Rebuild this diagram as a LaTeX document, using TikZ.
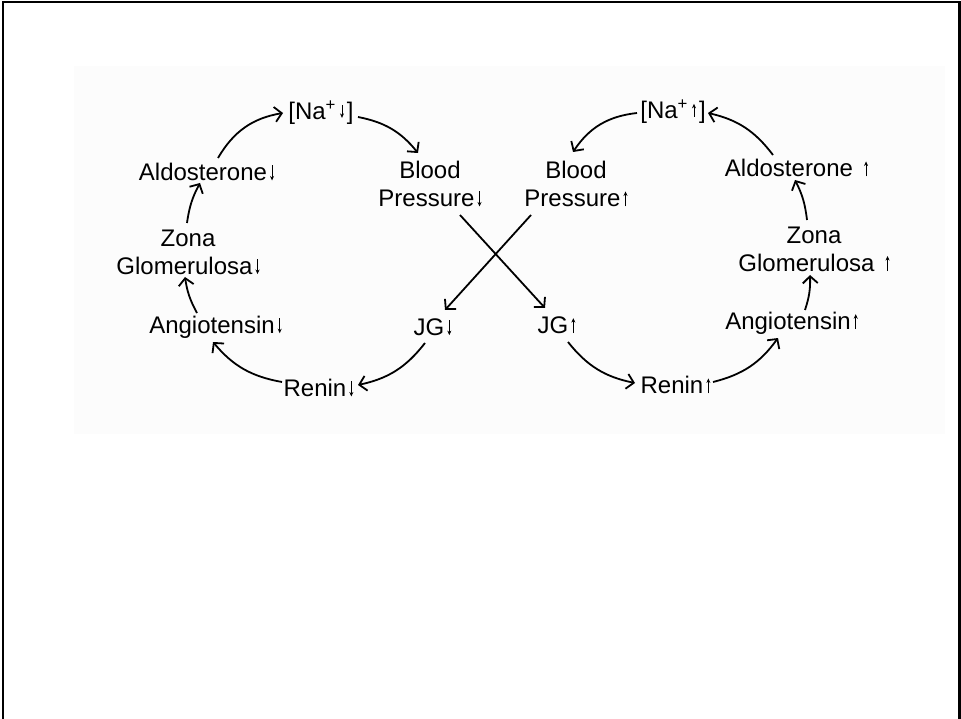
\documentclass[tikz,border=0pt]{standalone}
\usepackage{fontspec}
\setmainfont{Liberation Sans}
\usetikzlibrary{arrows.meta}
\newcommand{\dnar}{\hspace{3pt}\tikz[baseline=0pt]\draw[line width=0.9pt,-{Stealth[length=4.5pt,width=4pt]}] (0,15pt) -- (0,0pt);\hspace{1pt}}
\newcommand{\upar}{\hspace{3pt}\tikz[baseline=0pt]\draw[line width=0.9pt,-{Stealth[length=4.5pt,width=4pt]}] (0,0pt) -- (0,15pt);\hspace{1pt}}
\newcommand{\nadn}{\hspace{4pt}\raisebox{2pt}{\tikz[baseline=0pt]\draw[line width=0.9pt,-{Stealth[length=4.5pt,width=4pt]}] (0,13pt) -- (0,0pt);}\hspace{3pt}}
\newcommand{\naup}{\hspace{4pt}\raisebox{2pt}{\tikz[baseline=0pt]\draw[line width=0.9pt,-{Stealth[length=4.5pt,width=4pt]}] (0,0pt) -- (0,13pt);}\hspace{3pt}}
\definecolor{panel}{RGB}{252,252,252}
\begin{document}
\begin{tikzpicture}[x=1pt,y=1pt,
  lbl/.style={font=\fontsize{24}{28}\selectfont, align=center, inner sep=1pt},
  conn/.style={line width=1.8pt, -{Straight Barb[length=7pt,width=15pt,line width=1.8pt]}}]
\useasboundingbox (0,0) rectangle (961,-719);
\fill[panel] (74,-66) rectangle (945,-434);
\draw[line width=2.2pt] (3,-719) -- (3,-2) -- (959.5,-2) -- (959.5,-719);
% left loop
\node[lbl] (naL) at (321,-113) {[Na\textsuperscript{+}\nadn]};
\node[lbl] (bpL) at (430,-184) {Blood\\Pressure\dnar};
\node[lbl] (aldoL) at (207,-172) {Aldosterone\dnar};
\node[lbl] (zonaL) at (188,-252) {Zona\\Glomerulosa\dnar};
\node[lbl] (angL) at (216,-327) {Angiotensin\dnar};
\node[lbl] (reninL) at (319,-388) {Renin\dnar};
\node[lbl] (jgL) at (433,-327) {JG\dnar};
% right loop
\node[lbl] (naR) at (673,-112) {[Na\textsuperscript{+}\naup]};
\node[lbl] (bpR) at (576,-184) {Blood\\Pressure\upar};
\node[lbl] (aldoR) at (797,-168) {Aldosterone\hspace{8pt}\upar};
\node[lbl] (zonaR) at (814,-249) {Zona\\Glomerulosa\hspace{8pt}\upar};
\node[lbl] (angR) at (792,-323) {Angiotensin\upar};
\node[lbl] (jgR) at (557,-325) {JG\upar};
\node[lbl] (reninR) at (676,-385) {Renin\upar};
% left connectors
\draw[conn] ([shift={(11,14)}]aldoL.center) to[bend left=25] ([shift={(-38,0)}]naL.center);
\draw[conn] ([shift={(37,-4)}]naL.center) to[bend left=20] ([shift={(-12,31)}]bpL.center);
\draw[conn] ([shift={(30,-31)}]bpL.center) -- ([shift={(-12,17)}]jgR.center);
\draw[conn] ([shift={(-45,-31)}]bpR.center) -- ([shift={(12,17)}]jgL.center);
\draw[conn] ([shift={(-8,-16)}]jgL.center) to[bend left=20] ([shift={(39,3)}]reninL.center);
\draw[conn] ([shift={(-37,6)}]reninL.center) to[bend left=20] ([shift={(-3,-15)}]angL.center);
\draw[conn] ([shift={(-19,14)}]angL.center) to[bend left=10] ([shift={(-3,-25)}]zonaL.center);
\draw[conn] ([shift={(-1,29)}]zonaL.center) to[bend left=10] ([shift={(-7,-11)}]aldoL.center);
% right connectors
\draw[conn] ([shift={(-36,-1)}]naR.center) to[bend right=25] ([shift={(-3,32)}]bpR.center);
\draw[conn] ([shift={(-24,13)}]aldoR.center) to[bend right=20] ([shift={(35,-1)}]naR.center);
\draw[conn] ([shift={(11,-17)}]jgR.center) to[bend right=20] ([shift={(-41,2)}]reninR.center);
\draw[conn] ([shift={(37,3)}]reninR.center) to[bend right=20] ([shift={(-14,-15)}]angR.center);
\draw[conn] ([shift={(13,13)}]angR.center) to[bend right=10] ([shift={(-4,-26)}]zonaR.center);
\draw[conn] ([shift={(-7,29)}]zonaR.center) to[bend right=10] ([shift={(-2,-12)}]aldoR.center);
\end{tikzpicture}
\end{document}
